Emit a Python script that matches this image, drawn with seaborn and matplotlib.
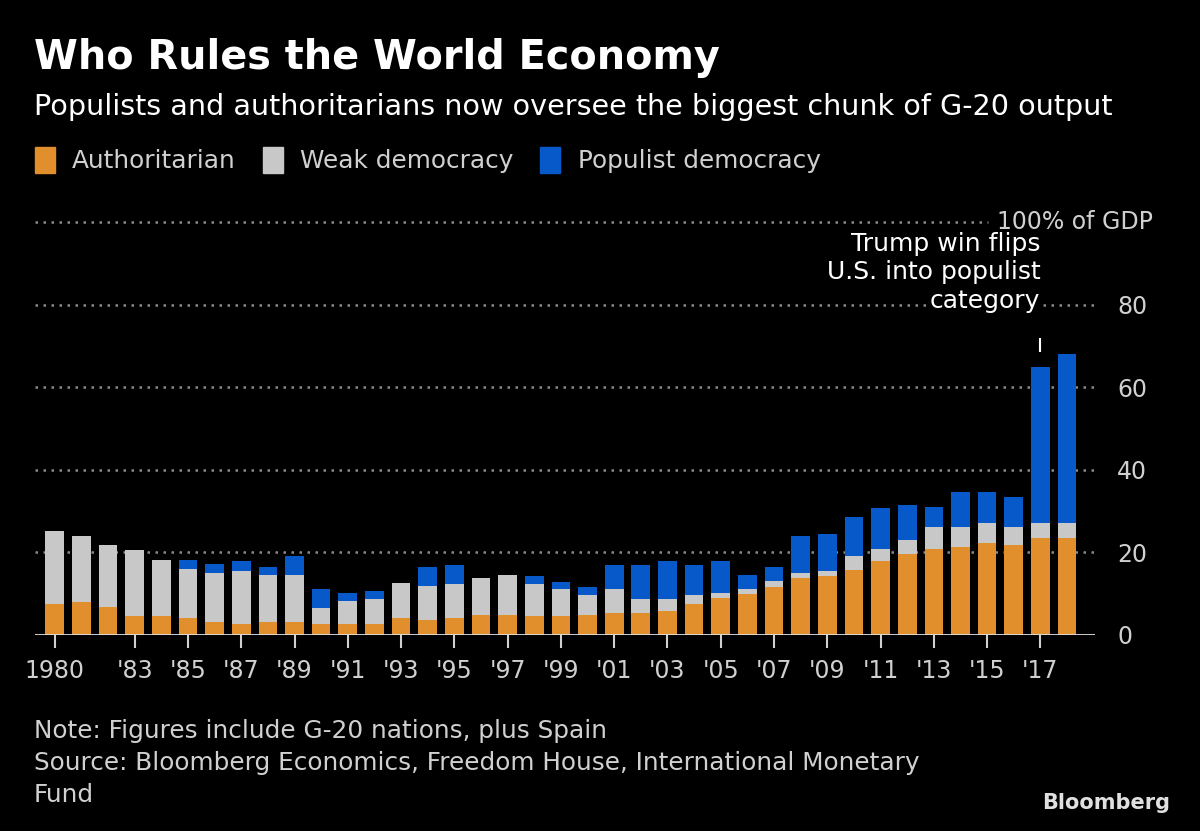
import matplotlib
matplotlib.use('Agg')
import matplotlib.pyplot as plt
from matplotlib.patches import Patch
import seaborn as sns
import pandas as pd

# --- Data (share of G-20 GDP, %) ---
years = list(range(1980, 2019))
authoritarian = [7.5, 8.0, 6.7, 4.5, 4.5, 4.1, 3.2, 2.6, 3.2, 3.2,
                 2.6, 2.6, 2.6, 4.1, 3.6, 4.1, 4.9, 4.9, 4.5, 4.5,
                 4.9, 5.3, 5.3, 5.7, 7.5, 8.9, 9.9, 11.7, 13.8, 14.4,
                 15.7, 17.9, 19.6, 20.9, 21.4, 22.3, 21.9, 23.6, 23.6]
weak = [17.8, 16.0, 15.1, 16.0, 13.7, 11.9, 11.9, 13.0, 11.4, 11.4,
        4.0, 5.7, 6.2, 8.4, 8.3, 8.3, 8.9, 9.7, 7.9, 6.6,
        4.8, 5.8, 3.5, 3.1, 2.2, 1.3, 1.2, 1.3, 1.3, 1.2,
        3.4, 3.0, 3.5, 5.3, 4.8, 4.8, 4.3, 3.5, 3.5]
populist = [0, 0, 0, 0, 0, 2.2, 2.2, 2.2, 1.9, 4.6,
            4.5, 1.9, 1.9, 0, 4.5, 4.5, 0, 0, 1.8, 1.8,
            1.8, 5.8, 8.1, 9.0, 7.2, 7.6, 3.5, 3.5, 8.9, 8.9,
            9.4, 9.8, 8.4, 4.9, 8.5, 7.6, 7.1, 37.8, 40.9]
tick_years = [1980] + list(range(1983, 2018, 2))
tick_labels = ['1980'] + ["'%02d" % (y % 100) for y in range(1983, 2018, 2)]
ytick_vals = [0, 20, 40, 60, 80]
ytick_labels = ['0', '20', '40', '60', '80']

df = pd.DataFrame({'Year': years, 'Authoritarian': authoritarian,
                   'Weak democracy': weak, 'Populist democracy': populist})
df['weak_top'] = df['Authoritarian'] + df['Weak democracy']
df['total'] = df['weak_top'] + df['Populist democracy']

ORANGE = '#E08F2C'
GRAY = '#C8C8C8'
BLUE = '#0759C9'
TEXT = '#D0D0D0'

plt.rcParams['font.family'] = ['DejaVu Sans']

fig = plt.figure(figsize=(12, 8.31), dpi=100, facecolor='black')
ax = fig.add_axes([0.029, 0.2359, 0.8835, 0.5217])
ax.set_facecolor('black')

# stacked bars: draw totals first, then cover with lower segments
sns.barplot(data=df, x='Year', y='total', color=BLUE, width=0.7,
            saturation=1, ax=ax, zorder=3)
sns.barplot(data=df, x='Year', y='weak_top', color=GRAY, width=0.7,
            saturation=1, ax=ax, zorder=3)
sns.barplot(data=df, x='Year', y='Authoritarian', color=ORANGE, width=0.7,
            saturation=1, ax=ax, zorder=3)

ax.set_xlim(-0.75, len(years) - 1 + 1.05)
ax.set_ylim(0, 105)

# gridlines
for v in ytick_vals[1:]:
    ax.axhline(v, color='#8a8a8a', lw=1.8, ls=(0, (1, 2.2)), zorder=1)
ax.axhline(100, xmax=0.899, color='#8a8a8a', lw=1.8, ls=(0, (1, 2.2)), zorder=1)
ax.axhline(0, color='#e0e0e0', lw=2, zorder=4)
ax.text(1.0547, 100, '100% of GDP', transform=ax.get_yaxis_transform(),
        ha='right', va='center', color=TEXT, fontsize=17)

for s in ax.spines.values():
    s.set_visible(False)

ax.set_xticks([years.index(y) for y in tick_years])
ax.set_xticklabels(tick_labels)
ax.tick_params(axis='x', colors=TEXT, length=9, width=1.5, labelsize=17, pad=8)

ax.yaxis.tick_right()
ax.set_yticks(ytick_vals)
ax.set_yticklabels(ytick_labels)
ax.tick_params(axis='y', colors=TEXT, length=0, labelsize=17, pad=16)
ax.set_xlabel('')
ax.set_ylabel('')

# annotation for 2017
i17 = years.index(2017)
ax.text(i17, 85, 'Trump win flips\nU.S. into populist', ha='right',
        va='bottom', color='white', fontsize=18, linespacing=1.2, zorder=5)
ax.text(i17, 78, 'category', ha='right', va='bottom', color='white',
        fontsize=18, zorder=5,
        bbox=dict(facecolor='black', edgecolor='none', pad=2))
ax.vlines(i17, 68.6, 72, color='white', lw=1.5)

# titles
fig.text(0.028, 0.930, 'Who Rules the World Economy', color='white',
         fontsize=28.6, fontweight='bold', va='center')
fig.text(0.028, 0.871, 'Populists and authoritarians now oversee the biggest chunk of G-20 output',
         color='white', fontsize=20.6, va='center')

handles = [Patch(color=ORANGE), Patch(color=GRAY), Patch(color=BLUE)]
fig.legend(handles, ['Authoritarian', 'Weak democracy', 'Populist democracy'],
           loc='center left', bbox_to_anchor=(0.029, 0.807), ncol=3, frameon=False,
           fontsize=17.8, labelcolor=TEXT, handlelength=0.8, handleheight=1.2,
           handletextpad=0.7, columnspacing=1.1, borderaxespad=0, borderpad=0)

fig.text(0.028, 0.120, 'Note: Figures include G-20 nations, plus Spain', color=TEXT,
         fontsize=17.8, va='center')
fig.text(0.028, 0.082, 'Source: Bloomberg Economics, Freedom House, International Monetary',
         color=TEXT, fontsize=17.8, va='center')
fig.text(0.028, 0.043, 'Fund', color=TEXT, fontsize=17.8, va='center')
fig.text(0.975, 0.034, 'Bloomberg', color='#e0e0e0', fontsize=15,
         fontweight='bold', ha='right', va='center')

fig.savefig('out.png', dpi=100, facecolor='black')
